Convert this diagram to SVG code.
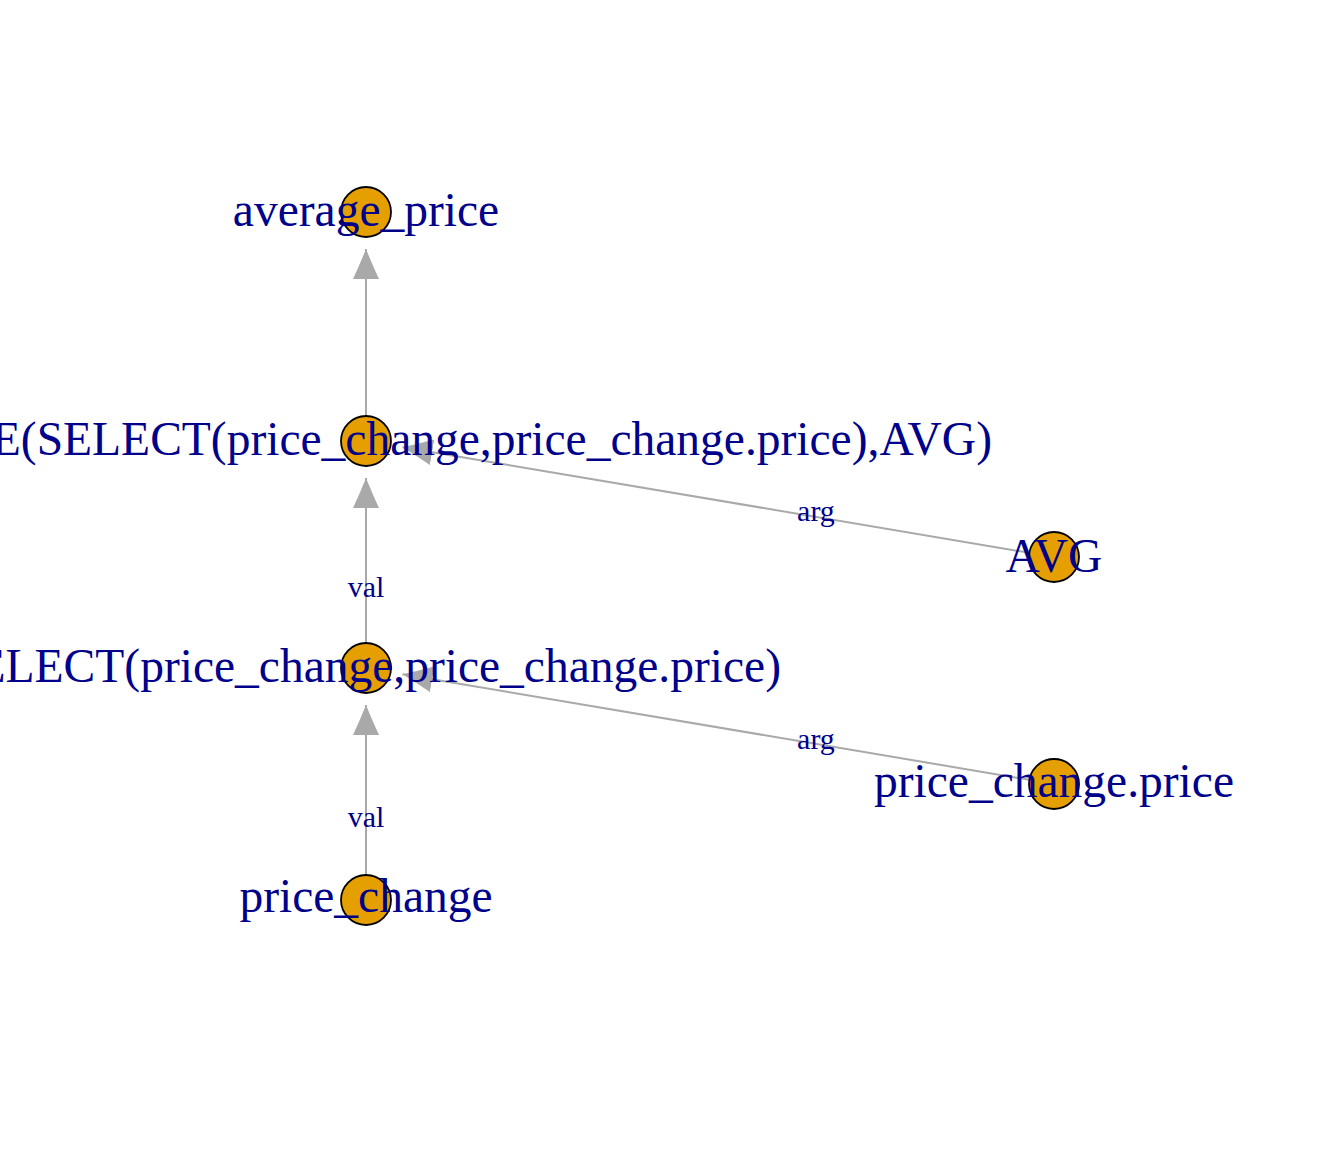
<svg xmlns="http://www.w3.org/2000/svg" width="1344" height="1152" viewBox="0 0 1344 1152">
<style>
.edge{stroke:#A9A9A9;stroke-width:2;fill:none;marker-end:url(#ah)}
.elab{font-family:"Liberation Serif","Times New Roman",serif;font-size:30px;fill:#00008B;text-anchor:middle}
.node circle{fill:#E69F00;stroke:#000;stroke-width:1.8}
.nlab{font-family:"Liberation Serif","Times New Roman",serif;font-size:47.5px;fill:#00008B;text-anchor:middle}
</style>
<defs>
<marker id="ah" markerUnits="userSpaceOnUse" viewBox="0 0 30 26" markerWidth="30" markerHeight="26" refX="30" refY="13" orient="auto">
<path d="M30,13 Q15,7 0,0 L0,26 Q15,19 30,13 Z" fill="#A9A9A9"/>
</marker>
</defs>
<rect width="1344" height="1152" fill="#fff"/>
<g id="connectors">
<line class="edge" x1="366" y1="441" x2="366" y2="249"/>
<line class="edge" x1="366" y1="668" x2="366" y2="478"/>
<line class="edge" x1="1054" y1="557" x2="402.5" y2="447.2"/>
<line class="edge" x1="366" y1="900" x2="366" y2="705"/>
<line class="edge" x1="1054" y1="784" x2="402.5" y2="674.2"/>
<text class="elab" x="366" y="597">val</text>
<text class="elab" x="816" y="521">arg</text>
<text class="elab" x="366" y="827">val</text>
<text class="elab" x="816" y="749">arg</text>
</g>
<g id="n_average_price" class="node">
<circle cx="366" cy="212" r="25"/>
<text class="nlab" x="366" y="226">average_price</text>
</g>
<g id="n_aggregate" class="node">
<circle cx="366" cy="441" r="25"/>
<text class="nlab" x="992" y="455" style="text-anchor:end">E(SELECT(price_change,price_change.price),AVG)</text>
</g>
<g id="n_avg" class="node">
<circle cx="1054" cy="557" r="25"/>
<text class="nlab" x="1054" y="572">AVG</text>
</g>
<g id="n_select" class="node">
<circle cx="366" cy="668" r="25"/>
<text class="nlab" x="781" y="682" style="text-anchor:end">ELECT(price_change,price_change.price)</text>
</g>
<g id="n_price_change_price" class="node">
<circle cx="1054" cy="784" r="25"/>
<text class="nlab" x="1054" y="797">price_change.price</text>
</g>
<g id="n_price_change" class="node">
<circle cx="366" cy="900" r="25"/>
<text class="nlab" x="366" y="912">price_change</text>
</g>
</svg>
